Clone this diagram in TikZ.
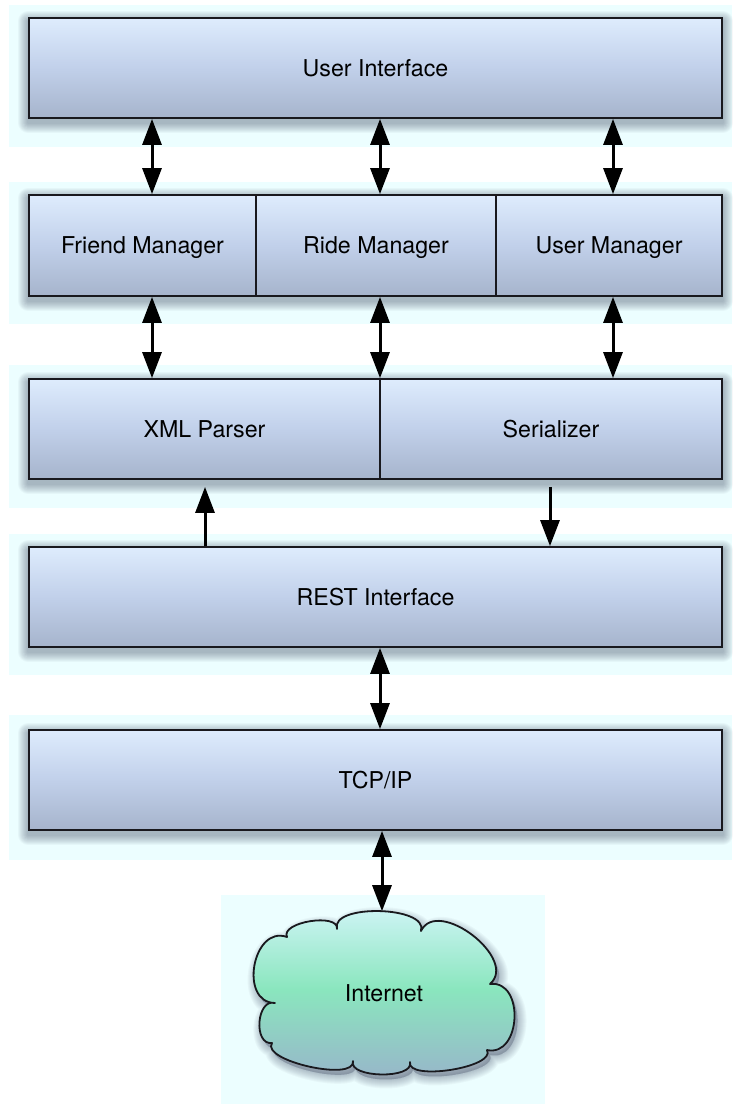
\documentclass[tikz,border=0pt]{standalone}
\usepackage{fontspec}
\setmainfont{TeX Gyre Heros}
\usetikzlibrary{arrows.meta}
\pgfdeclarelayer{bands}
\pgfdeclarelayer{shadows}
\pgfsetlayers{bands,shadows,main}
\definecolor{bandcol}{RGB}{236,254,255}
\definecolor{boxtop}{RGB}{222,236,253}
\definecolor{boxmid}{RGB}{193,208,234}
\definecolor{boxbot}{RGB}{166,180,204}
\definecolor{shadowcol}{RGB}{40,50,80}
\definecolor{cloudtop}{RGB}{215,246,252}
\definecolor{cloudmid}{RGB}{138,230,190}
\definecolor{cloudbot}{RGB}{152,180,202}
\definecolor{edgecol}{RGB}{25,25,30}
\newcommand{\softshadow}[2]{%
  \begin{pgfonlayer}{shadows}
  \foreach \i in {1,...,10}{
    \fill[shadowcol, opacity=0.038, rounded corners=\i pt]
      ([xshift=-\i pt, yshift=-4pt-\i pt]#1.south west) rectangle ([xshift=\i pt, yshift=-4pt+\i pt]#2.north east);
  }
  \end{pgfonlayer}}
\newcommand{\cloudoutline}{(287,937) .. controls (280,922) and (339,912.5) .. (337,929)
  .. controls (330,903.5) and (429,906) .. (421,931)
  .. controls (437.5,896.5) and (519,959) .. (490,984)
  .. controls (525,979.7) and (521.3,1057.5) .. (487,1050)
  .. controls (496.8,1067.5) and (406,1081.5) .. (410,1062)
  .. controls (414.8,1079.4) and (347.6,1078.2) .. (353,1061)
  .. controls (356,1082.2) and (260.4,1060.8) .. (272,1043)
  .. controls (253,1045.2) and (256.6,998) .. (275,1003)
  .. controls (238.5,1002.5) and (252.7,924.7) .. (287,937) -- cycle}
\begin{document}
\begin{tikzpicture}[x=1pt,y=-1pt,
  labelfont/.style={font=\fontsize{23.2}{28}\selectfont, text=black, text height=16.6pt, text depth=0pt},
  layerbox/.style={rectangle, draw=edgecol, line width=1.8pt, top color=boxtop, bottom color=boxbot, middle color=boxmid, inner sep=0pt, labelfont},
  band/.style={fill=bandcol},
  biarrow/.style={line width=3pt, {Triangle[width=19pt,length=26pt]}-{Triangle[width=19pt,length=26pt]}},
  onearrow/.style={line width=3pt, -{Triangle[width=19pt,length=26pt]}},
  cloudshape/.style={draw=edgecol, line width=1.8pt, line join=round, top color=cloudtop, bottom color=cloudbot, middle color=cloudmid},
  cloudshadow/.style={fill=shadowcol, draw=shadowcol, fill opacity=0.035, draw opacity=0.035, line join=round}
]
\useasboundingbox (0,0) rectangle (732,1104);
\begin{pgfonlayer}{bands}
\fill[band] (9,5) rectangle (732,147);
\fill[band] (9,182) rectangle (732,324);
\fill[band] (9,365) rectangle (732,508);
\fill[band] (9,534) rectangle (732,675);
\fill[band] (9,715) rectangle (732,860);
\fill[band] (221,895) rectangle (545,1104);
\end{pgfonlayer}

\node[layerbox, minimum width=693pt, minimum height=100pt] (ui) at (375.5,68) {User Interface};
\node[layerbox, minimum width=227pt, minimum height=101pt] (friend) at (142.5,245.5) {Friend Manager};
\node[layerbox, minimum width=240pt, minimum height=101pt] (ride) at (376,245.5) {Ride Manager};
\node[layerbox, minimum width=226pt, minimum height=101pt] (user) at (609,245.5) {User Manager};
\node[layerbox, minimum width=351pt, minimum height=100pt] (xml) at (204.5,429) {XML Parser};
\node[layerbox, minimum width=342pt, minimum height=100pt] (ser) at (551,429) {Serializer};
\node[layerbox, minimum width=693pt, minimum height=100pt] (rest) at (375.5,597) {REST Interface};
\node[layerbox, minimum width=693pt, minimum height=100pt] (tcp) at (375.5,780) {TCP/IP};

\path[cloudshape] \cloudoutline;
\node[labelfont, inner sep=0pt] (internet) at (384,993) {Internet};
\coordinate (cloudpeak) at (382,911.2);

\softshadow{ui}{ui}
\softshadow{friend}{user}
\softshadow{xml}{ser}
\softshadow{rest}{rest}
\softshadow{tcp}{tcp}
\begin{pgfonlayer}{shadows}
\foreach \i in {1,...,9}{
  \path[cloudshadow, shift={(3,5)}, line width=2*\i pt] \cloudoutline;
}
\end{pgfonlayer}

\path (152,0) coordinate (cA) (380,0) coordinate (cB) (613,0) coordinate (cC)
      (205,0) coordinate (cD) (550,0) coordinate (cE) (382,0) coordinate (cF);

\draw[biarrow] (ui.south -| cA) -- (friend.north -| cA);
\draw[biarrow] (ui.south -| cB) -- (ride.north -| cB);
\draw[biarrow] (ui.south -| cC) -- (user.north -| cC);
\draw[biarrow] (friend.south -| cA) -- (xml.north -| cA);
\draw[biarrow] (ride.south -| cB) -- (xml.north -| cB);
\draw[biarrow] (user.south -| cC) -- (ser.north -| cC);
\draw[onearrow, shorten >=7pt] (rest.north -| cD) -- (xml.south -| cD);
\draw[onearrow, shorten <=7pt] (ser.south -| cE) -- (rest.north -| cE);
\draw[biarrow] (rest.south -| cB) -- (tcp.north -| cB);
\draw[biarrow] (tcp.south -| cF) -- (cloudpeak);
\end{tikzpicture}
\end{document}
